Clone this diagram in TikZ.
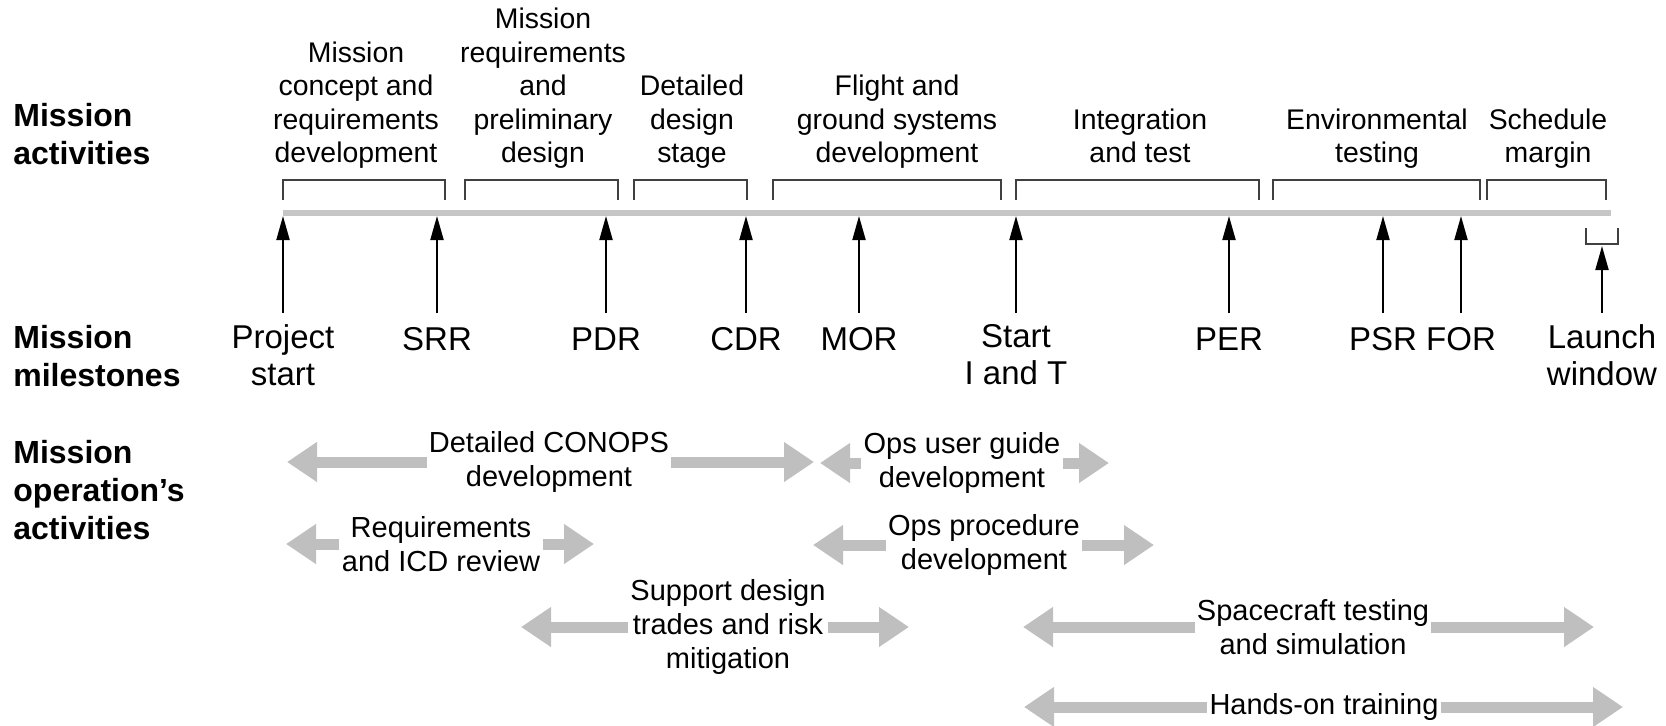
\documentclass[tikz,border=0pt]{standalone}
\usepackage{fontspec}
\setmainfont{Liberation Sans}
\usetikzlibrary{arrows.meta,positioning}

\begin{document}
\begin{tikzpicture}[
    x=0.5pt, y=-0.5pt,
    >=Stealth,
    row label/.style={anchor=west, align=left, inner sep=0pt, font=\fontsize{16}{18.8}\selectfont\bfseries},
    phase label/.style={anchor=south, align=center, inner sep=0pt, font=\fontsize{14.2}{16.7}\selectfont, execute at end node=\strut},
    phase bracket/.style={black!75, line width=0.6pt},
    timeline/.style={gray!45, line width=3pt},
    milestone/.style={anchor=north, align=center, inner sep=0pt, font=\fontsize{16.5}{18.5}\selectfont, execute at begin node=\strut},
    milestone arrow/.style={line width=1pt, -{Triangle[length=12pt,width=6.5pt]}, shorten <=5.5pt},
    ops label/.style={align=center, inner sep=1pt, font=\fontsize{14.5}{17}\selectfont},
    ops arrow/.style={gray!50, line width=5.5pt, -{Triangle[length=15pt,width=19pt]}},
    ]

    \useasboundingbox (0,0) rectangle (1666,725);

    \def\brTop{180}   % top of the phase brackets
    \def\brBot{200}
    \def\barY{213}    % time line

    % row titles
    \node[row label] (activities) at (13,134) {Mission\\activities};
    \node[row label] (milestones) at (13,356) {Mission\\milestones};
    \node[row label] (operations) at (13,490) {Mission\\operation's\\activities};

    % phases above the time line
    \node[phase label] (concept) at (356,173) {Mission\\concept and\\requirements\\development};
    \node[phase label] (prelim) at (543,173) {Mission\\requirements\\and\\preliminary\\design};
    \node[phase label] (detail) at (692,173) {Detailed\\design\\stage};
    \node[phase label] (flight) at (897,173) {Flight and\\ground systems\\development};
    \node[phase label] (integ) at (1140,173) {Integration\\and test};
    \node[phase label] (env) at (1377,173) {Environmental\\testing};
    \node[phase label] (margin) at (1548,173) {Schedule\\margin};

    \foreach \a/\b in {283/445, 465/618, 634/747, 773/1001, 1016/1259, 1273/1480, 1487/1606}
        \draw[phase bracket] (\a,\brBot) |- (\b,\brTop) -- (\b,\brBot);

    \draw[timeline] (283,\barY) -- (1611,\barY);
    \coordinate (bar) at (0,216);

    % milestones
    \node[milestone] (start) at (283,324) {Project\\start};
    \node[milestone] (srr) at (437,324) {SRR};
    \node[milestone] (pdr) at (606,324) {PDR};
    \node[milestone] (cdr) at (746,324) {CDR};
    \node[milestone] (mor) at (859,324) {MOR};
    \node[milestone] (iandt) at (1016,324) {Start\\I and T};
    \node[milestone] (per) at (1229,324) {PER};
    \node[milestone] (psr) at (1383,324) {PSR};
    \node[milestone] (for) at (1461,324) {FOR};
    \node[milestone] (launch) at (1602,324) {Launch\\window};

    \foreach \m in {start, srr, pdr, cdr, mor, iandt, per, psr, for}
        \draw[milestone arrow] (\m) -- (\m |- bar);

    \draw[phase bracket] (1586,228) |- (1618,244) -- (1618,228);
    \coordinate (window) at (1602,246);
    \draw[milestone arrow] (launch) -- (window);

    % operations activities
    \node[ops label] (conops) at (549,462) {Detailed CONOPS\\development};
    \coordinate (conops l) at (287,462);
    \coordinate (conops r) at (814,462);
    \draw[ops arrow] (conops.west) -- (conops l);
    \draw[ops arrow] (conops.east) -- (conops r);

    \node[ops label] (guide) at (962,463) {Ops user guide\\development};
    \coordinate (guide l) at (820,463);
    \coordinate (guide r) at (1109,463);
    \draw[ops arrow] (guide.west) -- (guide l);
    \draw[ops arrow] (guide.east) -- (guide r);

    \node[ops label] (icd) at (441,544) {Requirements\\and ICD review};
    \coordinate (icd l) at (286,544);
    \coordinate (icd r) at (594,544);
    \draw[ops arrow] (icd.west) -- (icd l);
    \draw[ops arrow] (icd.east) -- (icd r);

    \node[ops label] (proc) at (984,545) {Ops procedure\\development};
    \coordinate (proc l) at (813,545);
    \coordinate (proc r) at (1154,545);
    \draw[ops arrow] (proc.west) -- (proc l);
    \draw[ops arrow] (proc.east) -- (proc r);

    \node[ops label] (trades) at (728,627) {Support design\\trades and risk\\mitigation};
    \coordinate (trades l) at (521,627);
    \coordinate (trades r) at (909,627);
    \draw[ops arrow] (trades.west) -- (trades l);
    \draw[ops arrow] (trades.east) -- (trades r);

    \node[ops label] (sim) at (1313,627) {Spacecraft testing\\and simulation};
    \coordinate (sim l) at (1023,627);
    \coordinate (sim r) at (1594,627);
    \draw[ops arrow] (sim.west) -- (sim l);
    \draw[ops arrow] (sim.east) -- (sim r);

    \node[ops label] (train) at (1324,707) {Hands-on training};
    \coordinate (train l) at (1024,707);
    \coordinate (train r) at (1623,707);
    \draw[ops arrow] (train.west) -- (train l);
    \draw[ops arrow] (train.east) -- (train r);

\end{tikzpicture}
\end{document}
